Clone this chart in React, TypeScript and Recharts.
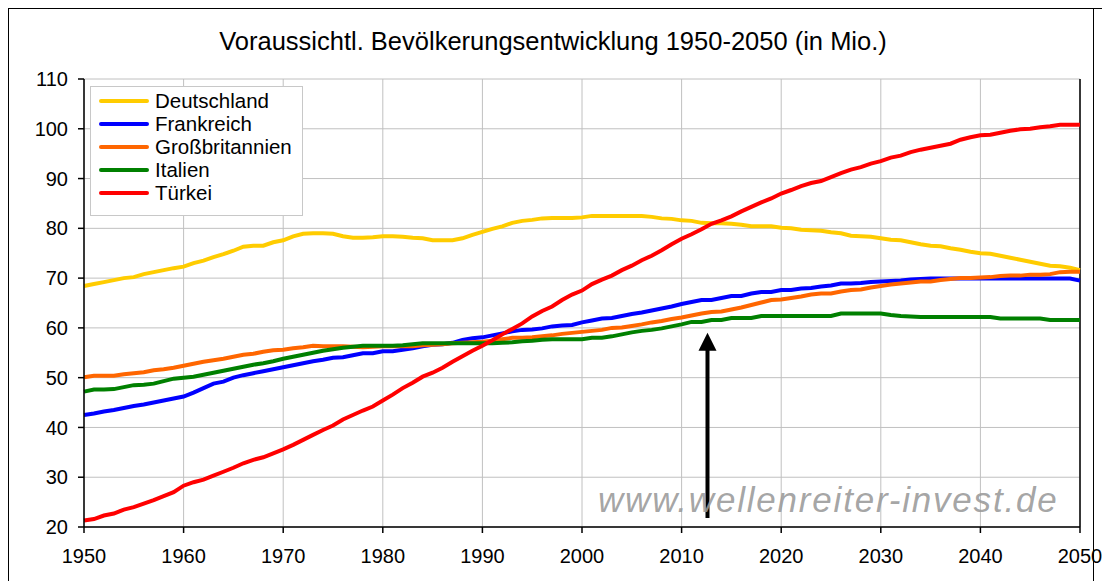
import React from "react";
import {
  LineChart,
  Line,
  XAxis,
  YAxis,
  CartesianGrid,
  ReferenceLine,
  ReferenceDot,
} from "recharts";

const years = [
  1950, 1951, 1952, 1953, 1954, 1955, 1956, 1957, 1958, 1959,
  1960, 1961, 1962, 1963, 1964, 1965, 1966, 1967, 1968, 1969,
  1970, 1971, 1972, 1973, 1974, 1975, 1976, 1977, 1978, 1979,
  1980, 1981, 1982, 1983, 1984, 1985, 1986, 1987, 1988, 1989,
  1990, 1991, 1992, 1993, 1994, 1995, 1996, 1997, 1998, 1999,
  2000, 2001, 2002, 2003, 2004, 2005, 2006, 2007, 2008, 2009,
  2010, 2011, 2012, 2013, 2014, 2015, 2016, 2017, 2018, 2019,
  2020, 2021, 2022, 2023, 2024, 2025, 2026, 2027, 2028, 2029,
  2030, 2031, 2032, 2033, 2034, 2035, 2036, 2037, 2038, 2039,
  2040, 2041, 2042, 2043, 2044, 2045, 2046, 2047, 2048, 2049,
  2050,
];

const deutschland = [
  68.4, 68.8, 69.2, 69.6, 70.0, 70.2, 70.8, 71.2, 71.6, 72.0,
  72.3, 73.0, 73.5, 74.2, 74.8, 75.5, 76.3, 76.5, 76.5, 77.2,
  77.6, 78.4, 78.9, 79.0, 79.0, 78.9, 78.4, 78.1, 78.1, 78.2,
  78.4, 78.4, 78.3, 78.1, 78.0, 77.6, 77.6, 77.6, 78.0, 78.7,
  79.3, 79.9, 80.4, 81.1, 81.5, 81.7, 82.0, 82.1, 82.1, 82.1,
  82.2, 82.5, 82.5, 82.5, 82.5, 82.5, 82.5, 82.3, 82.0, 81.9,
  81.6, 81.5, 81.1, 81.0, 81.0, 80.9, 80.7, 80.4, 80.4, 80.4,
  80.1, 80.0, 79.7, 79.6, 79.5, 79.2, 79.0, 78.5, 78.4, 78.3,
  78.0, 77.7, 77.6, 77.2, 76.8, 76.5, 76.4, 76.0, 75.7, 75.3,
  75.0, 74.9, 74.5, 74.1, 73.7, 73.3, 72.9, 72.5, 72.4, 72.1,
  71.6,
];

const frankreich = [
  42.5, 42.8, 43.2, 43.5, 43.9, 44.3, 44.6, 45.0, 45.4, 45.8,
  46.2, 47.0, 47.9, 48.8, 49.2, 50.0, 50.5, 50.9, 51.3, 51.7,
  52.1, 52.5, 52.9, 53.3, 53.6, 54.0, 54.1, 54.5, 54.9, 54.9,
  55.3, 55.3, 55.6, 55.9, 56.3, 56.6, 56.7, 57.0, 57.6, 57.9,
  58.1, 58.5, 58.9, 59.3, 59.6, 59.7, 59.9, 60.3, 60.5, 60.6,
  61.1, 61.5, 61.9, 62.0, 62.4, 62.8, 63.1, 63.5, 63.9, 64.3,
  64.8, 65.2, 65.6, 65.6, 66.0, 66.4, 66.4, 66.9, 67.2, 67.2,
  67.6, 67.6, 67.9, 68.0, 68.3, 68.5, 68.9, 68.9, 69.0, 69.2,
  69.3, 69.4, 69.5, 69.7, 69.8, 69.9, 69.9, 69.9, 69.9, 69.9,
  69.9, 69.9, 69.9, 69.9, 69.9, 69.9, 69.9, 69.9, 69.9, 69.9,
  69.5,
];

const grossbritannien = [
  50.1, 50.4, 50.4, 50.4, 50.7, 50.9, 51.1, 51.5, 51.7, 52.0,
  52.4, 52.8, 53.2, 53.5, 53.8, 54.2, 54.6, 54.8, 55.2, 55.5,
  55.6, 55.9, 56.1, 56.4, 56.3, 56.3, 56.3, 56.2, 56.1, 56.2,
  56.3, 56.3, 56.3, 56.3, 56.5, 56.6, 56.7, 56.9, 57.0, 57.1,
  57.2, 57.4, 57.7, 58.0, 58.0, 58.1, 58.3, 58.5, 58.8, 59.0,
  59.2, 59.4, 59.6, 60.0, 60.1, 60.4, 60.7, 61.1, 61.4, 61.8,
  62.1, 62.5, 62.9, 63.2, 63.3, 63.7, 64.1, 64.6, 65.1, 65.6,
  65.7, 66.0, 66.3, 66.7, 66.9, 66.9, 67.3, 67.6, 67.7, 68.1,
  68.4, 68.7, 68.9, 69.1, 69.3, 69.3, 69.6, 69.8, 70.0, 70.0,
  70.1, 70.2, 70.4, 70.5, 70.5, 70.7, 70.7, 70.8, 71.2, 71.3,
  71.3,
];

const italien = [
  47.2, 47.6, 47.6, 47.7, 48.1, 48.5, 48.6, 48.8, 49.3, 49.8,
  50.0, 50.2, 50.6, 51.0, 51.4, 51.8, 52.2, 52.6, 52.9, 53.3,
  53.8, 54.2, 54.6, 55.0, 55.4, 55.7, 56.0, 56.2, 56.4, 56.4,
  56.4, 56.4, 56.5, 56.7, 56.9, 56.9, 56.9, 56.9, 56.9, 56.9,
  56.9, 56.9, 57.0, 57.1, 57.3, 57.4, 57.6, 57.7, 57.7, 57.7,
  57.7, 58.0, 58.0, 58.3, 58.7, 59.1, 59.4, 59.6, 59.9, 60.3,
  60.7, 61.2, 61.2, 61.6, 61.6, 62.0, 62.0, 62.0, 62.4, 62.4,
  62.4, 62.4, 62.4, 62.4, 62.4, 62.4, 62.9, 62.9, 62.9, 62.9,
  62.9, 62.6, 62.4, 62.3, 62.2, 62.2, 62.2, 62.2, 62.2, 62.2,
  62.2, 62.2, 61.9, 61.9, 61.9, 61.9, 61.9, 61.6, 61.6, 61.6,
  61.6,
];

const tuerkei = [
  21.3, 21.6, 22.3, 22.7, 23.5, 24.0, 24.7, 25.4, 26.2, 27.0,
  28.3, 29.0, 29.5, 30.3, 31.1, 31.9, 32.8, 33.5, 34.0, 34.8,
  35.6, 36.5, 37.5, 38.5, 39.5, 40.4, 41.6, 42.5, 43.4, 44.2,
  45.4, 46.6, 47.9, 49.0, 50.2, 51.0, 52.0, 53.2, 54.3, 55.4,
  56.4, 57.5, 58.7, 59.8, 60.9, 62.3, 63.4, 64.3, 65.6, 66.7,
  67.5, 68.8, 69.7, 70.5, 71.6, 72.5, 73.6, 74.5, 75.6, 76.8,
  77.9, 78.8, 79.8, 80.9, 81.6, 82.4, 83.4, 84.3, 85.2, 86.0,
  87.0, 87.7, 88.5, 89.1, 89.5, 90.3, 91.1, 91.8, 92.3, 93.0,
  93.5, 94.2, 94.6, 95.3, 95.8, 96.2, 96.6, 97.0, 97.8, 98.3,
  98.7, 98.8, 99.2, 99.6, 99.9, 100.0, 100.3, 100.5, 100.8, 100.8,
  100.8,
];

const xTicks = [1950, 1960, 1970, 1980, 1990, 2000, 2010, 2020, 2030, 2040, 2050];
const yTicks = [20, 30, 40, 50, 60, 70, 80, 90, 100, 110];

const series = [
  { key: "Deutschland", values: deutschland, color: "#FFCC00" },
  { key: "Frankreich", values: frankreich, color: "#0000FF" },
  { key: "Großbritannien", values: grossbritannien, color: "#FF6600" },
  { key: "Italien", values: italien, color: "#008000" },
  { key: "Türkei", values: tuerkei, color: "#FF0000" },
];

const data = years.map((year, i) => {
  const row: Record<string, number> = { year };
  series.forEach((s) => {
    row[s.key] = s.values[i];
  });
  return row;
});

const FONT = "'Liberation Sans', Arial, sans-serif";

// arrow annotation (year, from / to value)
const arrowX = 2012.6;
const arrowFrom = 21.8;
const arrowTo = 59.0;

const ArrowHead = (props: any) => {
  const { cx, cy } = props;
  if (cx == null || cy == null) return null;
  return (
    <polygon
      points={`${cx},${cy} ${cx - 9},${cy + 18} ${cx + 9},${cy + 18}`}
      fill="#000"
    />
  );
};

function LegendBox() {
  return (
    <div
      style={{
        position: "absolute",
        left: 81,
        top: 77,
        width: 211,
        height: 126,
        border: "1px solid #c8c8c8",
        background: "#fff",
        fontFamily: FONT,
        fontSize: 20.5,
        paddingTop: 2,
        boxSizing: "content-box",
      }}
    >
      {series.map((s) => (
        <div
          key={s.key}
          style={{ display: "flex", alignItems: "center", height: 23, lineHeight: "23px" }}
        >
          <span
            style={{
              display: "inline-block",
              width: 50,
              height: 4,
              marginLeft: 8,
              marginRight: 6,
              background: s.color,
              borderRadius: 2,
            }}
          />
          <span style={{ color: "#000" }}>{s.key}</span>
        </div>
      ))}
    </div>
  );
}

export default function App() {
  return (
    <div
      style={{
        position: "relative",
        width: 1093,
        height: 600,
        borderLeft: "1px solid #000",
        borderTop: "1px solid #000",
      }}
    >
      <style>{`html { overflow: hidden; } body { margin: 8px 0 0 8px; }`}</style>
      {/* right frame edge, painted below the chart so the last tick label shows over it */}
      <div
        style={{
          position: "absolute",
          left: 1084,
          top: -1,
          width: 1,
          height: 601,
          background: "#000",
        }}
      />
      <LineChart
        width={1093}
        height={572}
        data={data}
        margin={{ top: 70, right: 22, bottom: 14, left: 15 }}
      >
        <CartesianGrid stroke="#c0c0c0" strokeWidth={1} />
        <XAxis
          dataKey="year"
          type="number"
          domain={[1950, 2050]}
          ticks={xTicks}
          interval={0}
          height={40}
          axisLine={{ stroke: "#000", strokeWidth: 1.5 }}
          tickLine={{ stroke: "#000", strokeWidth: 1.5 }}
          tickSize={6}
          tickMargin={16}
          tick={{ fill: "#000", fontSize: 20, fontFamily: FONT }}
        />
        <YAxis
          type="number"
          domain={[20, 110]}
          ticks={yTicks}
          interval={0}
          width={60}
          axisLine={{ stroke: "#000", strokeWidth: 1.5 }}
          tickLine={{ stroke: "#000", strokeWidth: 1.5 }}
          tickSize={6}
          tickMargin={10}
          tick={{ fill: "#000", fontSize: 20, fontFamily: FONT }}
        />
        <ReferenceLine x={2050} stroke="#000" strokeWidth={1.5} />
        {series.map((s) => (
          <Line
            key={s.key}
            type="linear"
            dataKey={s.key}
            stroke={s.color}
            strokeWidth={4}
            dot={false}
            activeDot={false}
            isAnimationActive={false}
          />
        ))}
        <ReferenceLine
          segment={[
            { x: arrowX, y: arrowFrom },
            { x: arrowX, y: 56 },
          ]}
          stroke="#000"
          strokeWidth={4}
        />
        <ReferenceDot x={arrowX} y={arrowTo} r={1} shape={ArrowHead} />
      </LineChart>
      <svg
        width={1084}
        height={572}
        style={{ position: "absolute", left: 0, top: 0, pointerEvents: "none" }}
      >
        <text
          x={544}
          y={41}
          textAnchor="middle"
          fontFamily={FONT}
          fontSize={25.5}
          fill="#000"
        >
          Voraussichtl. Bevölkerungsentwicklung 1950-2050 (in Mio.)
        </text>
        <text
          x={589}
          y={503}
          fontFamily={FONT}
          fontSize={35}
          fontStyle="italic"
          letterSpacing={1.8}
          fill="#9a9a9a"
          fillOpacity={0.9}
        >
          www.wellenreiter-invest.de
        </text>
      </svg>
      <LegendBox />
    </div>
  );
}
